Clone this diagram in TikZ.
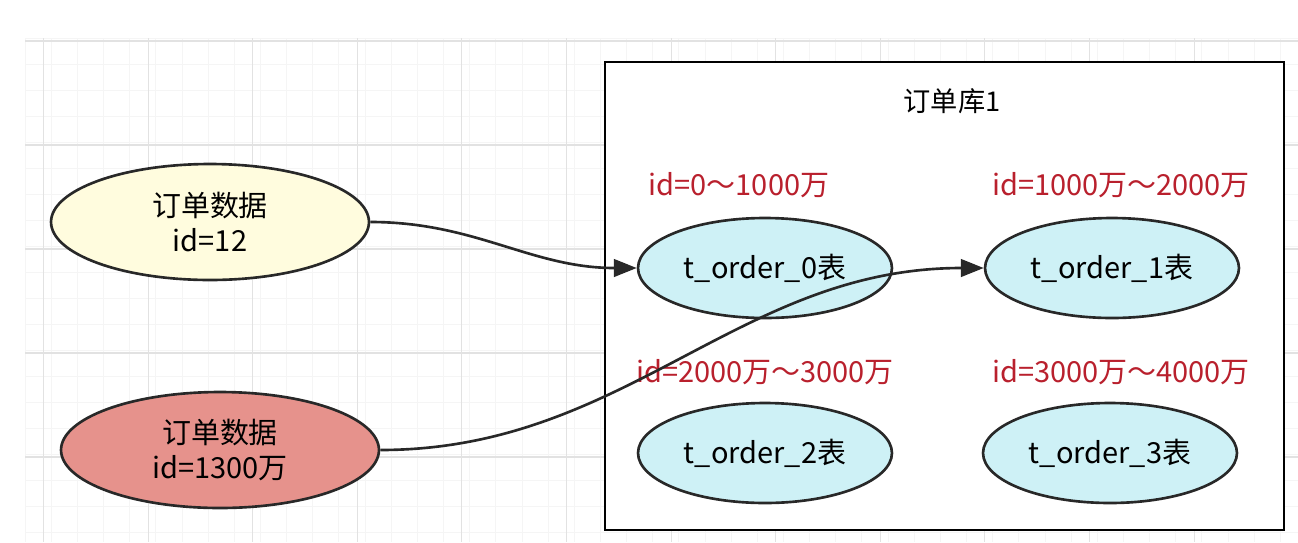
\documentclass[tikz,border=0pt]{standalone}
\usepackage{fontspec}
\setmainfont{Noto Sans CJK SC}
\usetikzlibrary{shapes.geometric, arrows.meta, positioning}

\definecolor{gridmajor}{RGB}{226,226,226}
\definecolor{gridminor}{RGB}{245,245,245}
\definecolor{dataYellow}{RGB}{255,252,222}
\definecolor{dataRed}{RGB}{230,146,140}
\definecolor{tableCyan}{RGB}{206,241,246}
\definecolor{rangeRed}{RGB}{185,32,45}
\definecolor{lineGray}{RGB}{40,40,40}

\begin{document}
\begin{tikzpicture}[
    x=0.02cm, y=-0.02cm,
    orderdata/.style={ellipse, draw=lineGray, line width=1.5pt, inner sep=0pt,
        minimum width=6.36cm, minimum height=2.32cm, align=center,
        font=\fontsize{16.5pt}{20pt}\selectfont},
    ordertable/.style={ellipse, draw=lineGray, line width=1.5pt, fill=tableCyan, inner sep=0pt,
        minimum width=5.08cm, minimum height=2cm,
        font=\fontsize{16.5pt}{20pt}\selectfont},
    idrange/.style={text=rangeRed, font=\fontsize{16.5pt}{20pt}\selectfont},
    link/.style={draw=lineGray, line width=1.5pt, -{Triangle[length=13pt, width=10pt]}},
    >=stealth
]
\useasboundingbox (0,0) rectangle (1298,542);
\fill[white] (0,0) rectangle (1298,542);

% Background grid
\foreach \gx in {0,...,48} {
    \draw[gridminor, line width=0.4pt] ({25+\gx*26.15},38) -- ({25+\gx*26.15},542);
}
\foreach \gy in {0,...,19} {
    \draw[gridminor, line width=0.4pt] (25,{38+\gy*26}) -- (1298,{38+\gy*26});
}
\foreach \gx in {0,...,12} {
    \draw[gridmajor, line width=0.6pt] ({43.5+\gx*104.6},38) -- ({43.5+\gx*104.6},542);
}
\foreach \gy in {0,...,4} {
    \draw[gridmajor, line width=0.6pt] (25,{41+\gy*104}) -- (1298,{41+\gy*104});
}

% Database box
\node[draw=black, line width=1.5pt, fill=white, minimum width=13.58cm, minimum height=9.36cm,
      inner sep=0pt] (db) at (944.5,296) {};
\node[font=\fontsize{15.5pt}{18pt}\selectfont] (dbtitle) at (952,101) {订单库1};

% Incoming order data
\node[orderdata, fill=dataYellow] (order12) at (210,222) {订单数据\\id=12};
\node[orderdata, fill=dataRed] (order1300) at (220,450) {订单数据\\id=1300万};

% Tables with their id ranges
\node[idrange] (range0) at (739,185) {id=0～1000万};
\node[idrange] (range1) at (1121,185) {id=1000万～2000万};
\node[idrange] (range2) at (765,372) {id=2000万～3000万};
\node[idrange] (range3) at (1121,372) {id=3000万～4000万};

\node[ordertable] (t0) at (765,268) {t\_order\_0表};
\node[ordertable] (t1) at (1112,268) {t\_order\_1表};
\node[ordertable] (t2) at (765,453) {t\_order\_2表};
\node[ordertable] (t3) at (1110,453) {t\_order\_3表};

% Routing
\draw[link] (order12.east) to[out=0, in=180] (t0.west);
\draw[link] (order1300.east) to[out=0, in=180] (t1.west);

\end{tikzpicture}
\end{document}
